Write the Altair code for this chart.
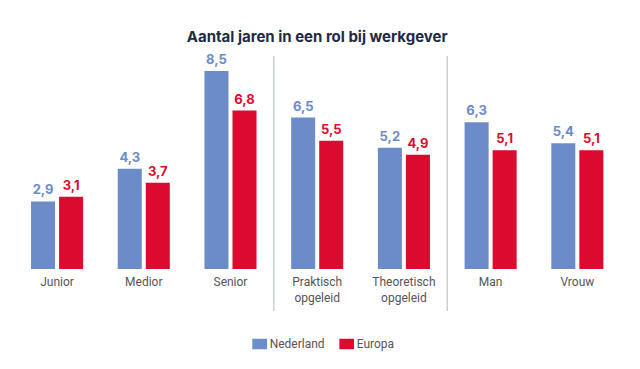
import altair as alt
import pandas as pd

categories = ["Junior", "Medior", "Senior", "Praktisch|opgeleid", "Theoretisch|opgeleid", "Man", "Vrouw"]
series = ["Nederland", "Europa"]
nederland = [2.9, 4.3, 8.5, 6.5, 5.2, 6.3, 5.4]
europa = [3.1, 3.7, 6.8, 5.5, 4.9, 5.1, 5.1]
separators = ["Praktisch|opgeleid", "Man"]

colors = ["#6b8cc8", "#dc0a2e"]

rows = []
for c, a, b in zip(categories, nederland, europa):
    rows.append({"cat": c, "series": "Nederland", "value": a})
    rows.append({"cat": c, "series": "Europa", "value": b})
df = pd.DataFrame(rows)
sep_df = pd.DataFrame({"cat": separators})

W = 607
H = 213

xscale = alt.Scale(domain=categories, paddingInner=0, paddingOuter=0)
x = alt.X("cat:N", scale=xscale,
          axis=alt.Axis(title=None, labelAngle=0, domain=False, ticks=False, grid=False,
                        bandPosition=0.5,
                        labelExpr="split(datum.label, '|')", labelFont="Roboto",
                        labelFontSize=12, labelColor="#555555", labelPadding=8,
                        labelLineHeight=16, labelBaseline="top"))
xo = alt.XOffset("series:N", scale=alt.Scale(domain=series, paddingInner=0.1429, paddingOuter=0.618))
y = alt.Y("value:Q", scale=alt.Scale(domain=[0, 9.14]), axis=None)
color = alt.Color("series:N", scale=alt.Scale(domain=series, range=colors),
                  legend=alt.Legend(title=None, orient="none", direction="horizontal",
                                    legendX=240, legendY=282,
                                    symbolType="M-1.4,-1L1.4,-1L1.4,1L-1.4,1Z",
                                    symbolSize=110, symbolStrokeWidth=0,
                                    labelFont="Roboto", labelFontSize=12,
                                    labelColor="#555555", columnPadding=14))

base = alt.Chart(df)
bars = base.mark_bar().encode(x=x, xOffset=xo, y=y, color=color)
labels = base.mark_text(baseline="bottom", dy=-4, font="Inter", fontSize=13, fontWeight="bold").transform_calculate(
    label="replace(format(datum.value, '.1f'), '.', ',')"
).encode(x=x, xOffset=xo, y=y, text="label:N", color=alt.Color("series:N", scale=alt.Scale(domain=series, range=colors), legend=None))

rules = alt.Chart(sep_df).mark_rule(color="#c9ced8", strokeWidth=1.5).encode(
    x=alt.X("cat:N", bandPosition=0, scale=xscale),
    y=alt.value(0), y2=alt.value(H + 42))

chart = alt.layer(bars, labels, rules).properties(
    width=W, height=H, background="white",
    title=alt.TitleParams("Aantal jaren in een rol bij werkgever", font="Inter", fontSize=15,
                          fontWeight="bold", color="#1e2a45", anchor="middle", offset=9),
    padding={"left": 5.7, "top": 21, "right": 5, "bottom": 5},
).configure_view(stroke="transparent", strokeWidth=0).configure_axis(
    grid=False, domain=False, ticks=False
)

chart.save("out.html", embed_options={"renderer": "svg", "actions": False})
